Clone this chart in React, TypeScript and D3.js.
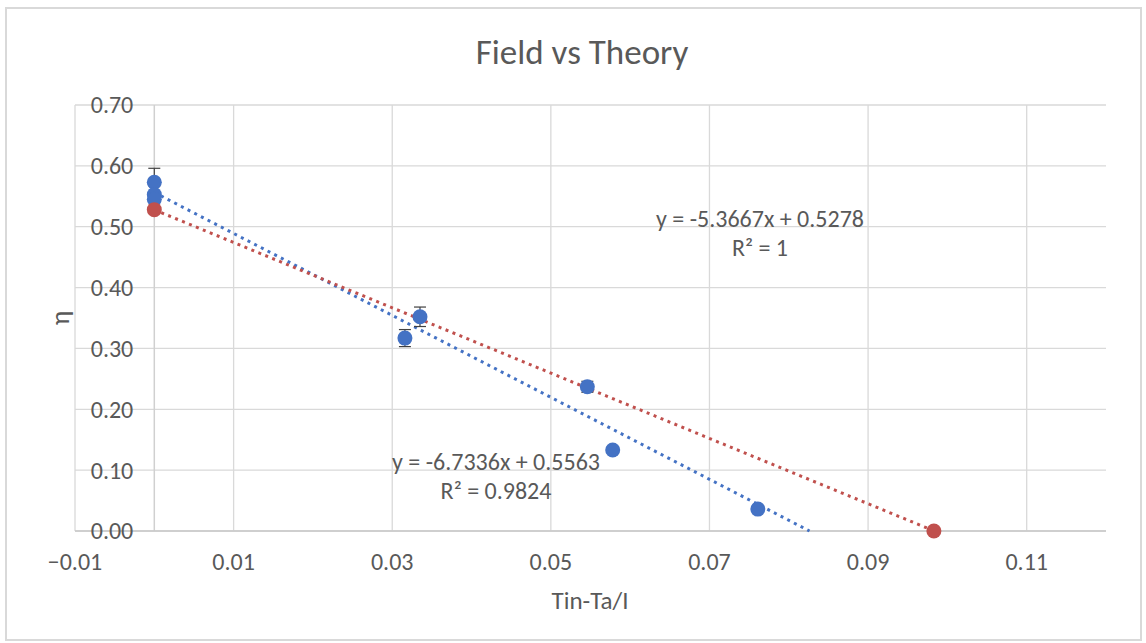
import React, { useRef, useEffect } from "react";
import * as d3 from "d3";

// Field measurements (blue) with error bars
const fieldX = [0.0, 0.0, 0.0, 0.0316, 0.0335, 0.0546, 0.0578, 0.0761];
const fieldY = [0.573, 0.553, 0.545, 0.317, 0.352, 0.237, 0.133, 0.036];
const fieldErr = [0.023, 0.022, 0.022, 0.014, 0.016, 0.009, 0.005, 0.001];

// Theory points (red)
const theoryX = [0.0, 0.0983];
const theoryY = [0.528, 0.0];

// linear trendlines: [slope, intercept]
const fieldFit = [-6.7336, 0.5563];
const theoryFit = [-5.3667, 0.5278];

const xTicks = [-0.01, 0.01, 0.03, 0.05, 0.07, 0.09, 0.11];
const yTicks = [0, 0.1, 0.2, 0.3, 0.4, 0.5, 0.6, 0.7];

const FONT = "Carlito, Calibri, Lato, sans-serif";
const TEXT = "#595959";
const GRID = "#d9d9d9";
const BLUE = "#4472c4";
const RED = "#c0504d";

const App = () => {
  const chartRef = useRef<HTMLDivElement>(null);

  useEffect(() => {
    const width = 1146;
    const height = 643;
    const left = 75, right = 1106, top = 105, bottom = 531;

    const x = d3.scaleLinear().domain([-0.01, 0.12]).range([left, right]);
    const y = d3.scaleLinear().domain([0, 0.7]).range([bottom, top]);

    const svg = d3.create("svg")
      .attr("width", width)
      .attr("height", height)
      .attr("viewBox", [0, 0, width, height])
      .style("position", "absolute")
      .style("left", "0px")
      .style("top", "0px")
      .style("font-family", FONT);

    svg.append("rect")
      .attr("width", width).attr("height", height).attr("fill", "#fff");

    // chart border
    svg.append("rect")
      .attr("x", 6).attr("y", 8)
      .attr("width", 1135).attr("height", 632)
      .attr("fill", "none").attr("stroke", GRID).attr("stroke-width", 2);

    // gridlines
    svg.append("g").selectAll("line")
      .data(yTicks)
      .join("line")
      .attr("x1", left).attr("x2", right)
      .attr("y1", d => y(d)).attr("y2", d => y(d))
      .attr("stroke", GRID).attr("stroke-width", 1.3);

    svg.append("g").selectAll("line")
      .data(xTicks)
      .join("line")
      .attr("x1", d => x(d)).attr("x2", d => x(d))
      .attr("y1", top).attr("y2", bottom)
      .attr("stroke", GRID).attr("stroke-width", 1.3);

    // axes at zero
    svg.append("line")
      .attr("x1", x(0)).attr("x2", x(0))
      .attr("y1", top).attr("y2", bottom)
      .attr("stroke", "#d0d0d0").attr("stroke-width", 1.5);
    svg.append("line")
      .attr("x1", left).attr("x2", right)
      .attr("y1", y(0)).attr("y2", y(0))
      .attr("stroke", "#c8c8c8").attr("stroke-width", 1.5);

    // tick labels
    svg.append("g").selectAll("text")
      .data(yTicks)
      .join("text")
      .attr("x", x(0) - 21)
      .attr("y", d => y(d))
      .attr("dy", "0.35em")
      .attr("text-anchor", "end")
      .attr("fill", TEXT)
      .style("font-size", "24px")
      .text(d => d3.format(".2f")(d));

    svg.append("g").selectAll("text")
      .data(xTicks)
      .join("text")
      .attr("x", d => x(d))
      .attr("y", 562)
      .attr("dy", "0.35em")
      .attr("text-anchor", "middle")
      .attr("fill", TEXT)
      .style("font-size", "24px")
      .text(d => d3.format(".2f")(d));

    // trendlines, from x = 0 to where they cross y = 0
    const trend = (fit, color) => {
      const x0 = 0;
      const x1 = -fit[1] / fit[0];
      svg.append("line")
        .attr("x1", x(x0)).attr("y1", y(fit[0] * x0 + fit[1]))
        .attr("x2", x(x1)).attr("y2", y(fit[0] * x1 + fit[1]))
        .attr("stroke", color)
        .attr("stroke-width", 3)
        .attr("stroke-dasharray", "3 4.5");
    };
    trend(fieldFit, BLUE);
    trend(theoryFit, RED);

    const field = fieldX.map((d, i) => ({ x: d, y: fieldY[i], e: fieldErr[i] }));

    // error bars (behind the markers)
    const eb = svg.append("g")
      .attr("stroke", "#404040").attr("stroke-width", 1.2);
    field.forEach(d => {
      const cx = x(d.x);
      eb.append("line")
        .attr("x1", cx).attr("x2", cx)
        .attr("y1", y(d.y - d.e)).attr("y2", y(d.y + d.e));
      [d.y - d.e, d.y + d.e].forEach(v => {
        eb.append("line")
          .attr("x1", cx - 6).attr("x2", cx + 6)
          .attr("y1", y(v)).attr("y2", y(v));
      });
    });

    // field markers
    svg.append("g").selectAll("circle")
      .data(field)
      .join("circle")
      .attr("cx", d => x(d.x)).attr("cy", d => y(d.y))
      .attr("r", 7.5)
      .attr("fill", BLUE);

    // theory markers
    svg.append("g").selectAll("circle")
      .data(theoryX.map((d, i) => ({ x: d, y: theoryY[i] })))
      .join("circle")
      .attr("cx", d => x(d.x)).attr("cy", d => y(d.y))
      .attr("r", 7.5)
      .attr("fill", RED);

    // trendline labels
    const label = (lines, cx, cy) => {
      lines.forEach((t, i) => {
        svg.append("text")
          .attr("x", cx).attr("y", cy + i * 29)
          .attr("dy", "0.35em")
          .attr("text-anchor", "middle")
          .attr("fill", TEXT)
          .style("font-size", "24px")
          .text(t);
      });
    };
    label(["y = -5.3667x + 0.5278", "R² = 1"], 760, 219);
    label(["y = -6.7336x + 0.5563", "R² = 0.9824"], 496, 462);

    // title + axis titles
    svg.append("text")
      .attr("x", 582).attr("y", 52)
      .attr("dy", "0.35em")
      .attr("text-anchor", "middle")
      .attr("fill", TEXT)
      .style("font-size", "35px")
      .text("Field vs Theory");

    svg.append("text")
      .attr("x", 590).attr("y", 600)
      .attr("dy", "0.35em")
      .attr("text-anchor", "middle")
      .attr("fill", TEXT)
      .style("font-size", "25px")
      .text("Tin-Ta/I");

    svg.append("text")
      .attr("transform", `translate(60,318) rotate(-90)`)
      .attr("dy", "0.35em")
      .attr("text-anchor", "middle")
      .attr("fill", TEXT)
      .style("font-size", "27px")
      .text("η");

    chartRef.current.innerHTML = "";
    chartRef.current.appendChild(svg.node());
  }, []);

  return <div ref={chartRef} />;
};

export default App;
